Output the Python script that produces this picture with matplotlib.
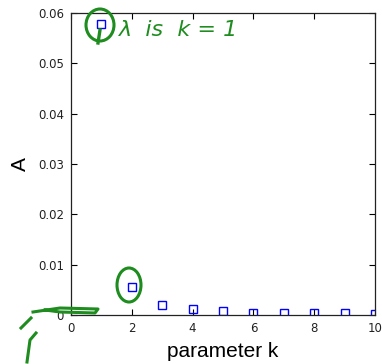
import matplotlib
matplotlib.use("Agg")
import matplotlib.pyplot as plt
from matplotlib.patches import Ellipse
from matplotlib.lines import Line2D

k = [1, 2, 3, 4, 5, 6, 7, 8, 9, 10]
A = [0.0578, 0.0056, 0.0020, 0.0011, 0.0007, 0.00046, 0.0004, 0.0003, 0.0003, 0.00025]
xticks = [0, 2, 4, 6, 8, 10]
yticks = [0, 0.01, 0.02, 0.03, 0.04, 0.05, 0.06]
ytick_labels = ["0", "0.01", "0.02", "0.03", "0.04", "0.05", "0.06"]

W, H = 382, 364
fig = plt.figure(figsize=(W / 100, H / 100), dpi=100)
ax = fig.add_axes([71 / W, (H - 315) / H, 304 / W, 302 / H])
ax.plot(k, A, linestyle="none", marker="s", markersize=5.2,
        markerfacecolor="none", markeredgecolor="#0000ff", markeredgewidth=1.0)
ax.set_xlim(0, 10)
ax.set_ylim(0, 0.06)
ax.set_xticks(xticks)
ax.set_yticks(yticks)
ax.set_yticklabels(ytick_labels)
ax.tick_params(direction="in", top=True, right=True, length=4, width=0.8,
               labelsize=8.5, labelcolor="#222222", pad=5)
for lab in ax.get_xticklabels() + ax.get_yticklabels():
    lab.set_family("DejaVu Sans")
for s in ax.spines.values():
    s.set_linewidth(0.9)
    s.set_color("#222222")
ax.set_xlabel("parameter k", fontsize=15, family="Liberation Sans", labelpad=5)
ax.set_ylabel("A", fontsize=15, family="Liberation Sans", labelpad=6)

g = "#1e8c1e"
def px(x, y):
    return (x / W, 1 - y / H)

# green hand annotations (figure pixel coordinates)
e1 = Ellipse(px(100, 25), 28 / W, 32 / H, transform=fig.transFigure,
             fill=False, edgecolor=g, linewidth=2.2)
fig.add_artist(e1)
e2 = Ellipse(px(129, 285), 24 / W, 34 / H, transform=fig.transFigure,
             fill=False, edgecolor=g, linewidth=2.2)
fig.add_artist(e2)
fig.add_artist(Line2D([100 / W, 98 / W], [1 - 30 / H, 1 - 43 / H],
                      transform=fig.transFigure, color=g, linewidth=2.4))
fig.text(119 / W, 1 - 36 / H, "λ  is  k = 1", color=g, fontsize=16,
         family="DejaVu Sans", fontstyle="italic")
# scribble near origin
fig.add_artist(Line2D([33 / W, 60 / W, 98 / W, 95 / W, 60 / W, 45 / W],
                      [1 - 312 / H, 1 - 308 / H, 1 - 309 / H, 1 - 313 / H, 1 - 312 / H, 1 - 310 / H],
                      transform=fig.transFigure, color=g, linewidth=2.2))
fig.add_artist(Line2D([21 / W, 31 / W], [1 - 328 / H, 1 - 318 / H],
                      transform=fig.transFigure, color=g, linewidth=2.2))
fig.add_artist(Line2D([27 / W, 30 / W, 36 / W], [1 - 362 / H, 1 - 340 / H, 1 - 333 / H],
                      transform=fig.transFigure, color=g, linewidth=2.2))

fig.savefig("out.png", dpi=100)
